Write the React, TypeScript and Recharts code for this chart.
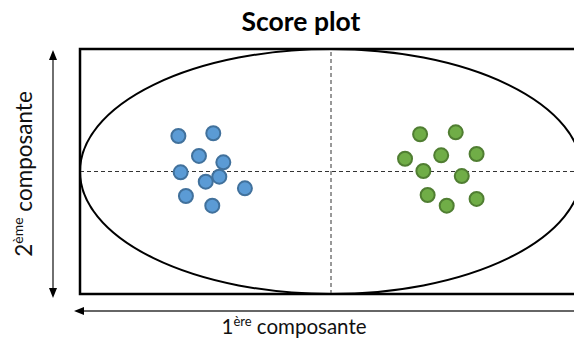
import React from 'react';
import { ScatterChart, Scatter, XAxis, YAxis, ReferenceLine, ReferenceArea, Label } from 'recharts';

// scores, both axes scaled to [-1, 1]
const groupA = [
  { x: -0.608, y: 0.29 },
  { x: -0.469, y: 0.312 },
  { x: -0.526, y: 0.127 },
  { x: -0.429, y: 0.075 },
  { x: -0.599, y: -0.007 },
  { x: -0.445, y: -0.042 },
  { x: -0.499, y: -0.083 },
  { x: -0.343, y: -0.137 },
  { x: -0.578, y: -0.2 },
  { x: -0.473, y: -0.279 },
];
const groupB = [
  { x: 0.355, y: 0.304 },
  { x: 0.497, y: 0.32 },
  { x: 0.295, y: 0.104 },
  { x: 0.439, y: 0.132 },
  { x: 0.58, y: 0.143 },
  { x: 0.368, y: 0.004 },
  { x: 0.521, y: -0.037 },
  { x: 0.385, y: -0.192 },
  { x: 0.461, y: -0.279 },
  { x: 0.58, y: -0.224 },
];
// confidence ellipse: centre and radii in axis units
const ellipse = [{ x: 0, y: 0, rx: 1, ry: 1 }];

const W = 600;
const H = 345;
const M = { top: 49, right: 18, bottom: 0, left: 0 };
const Y_W = 80;
const X_H = 51;
const PLOT_W = W - M.left - M.right - Y_W;
const PLOT_H = H - M.top - M.bottom - X_H;

const FONT = 'Lato, "Open Sans", sans-serif';

const dot = (fill: string, stroke: string) => (props: any) => (
  <circle cx={props.cx} cy={props.cy} r={7} fill={fill} stroke={stroke} strokeWidth={2} />
);

const EllipseShape = (props: any) => {
  const p = props.payload || {};
  return (
    <ellipse
      cx={props.cx}
      cy={props.cy}
      rx={(PLOT_W / 2) * (p.rx ?? 1)}
      ry={(PLOT_H / 2) * (p.ry ?? 1)}
      fill="none"
      stroke="#000"
      strokeWidth={2}
    />
  );
};

const XTitle = () => (
  <g>
    <line x1={82} y1={311} x2={574} y2={311} stroke="#333" strokeWidth={1.4} />
    <polygon points="74,311 84,307 84,315" fill="#000" />
    <text x={294} y={334} textAnchor="middle" fontFamily={FONT} fontSize={20.5} fill="#111">
      1<tspan fontSize={13} dy={-8}>ère</tspan>
      <tspan dy={8}> composante</tspan>
    </text>
  </g>
);

const YTitle = () => (
  <g>
    <line x1={53} y1={58} x2={53} y2={290} stroke="#333" strokeWidth={1.4} />
    <polygon points="53,50 49,60 57,60" fill="#000" />
    <polygon points="53,298 49,288 57,288" fill="#000" />
    <text
      transform="translate(32,174) rotate(-90)"
      textAnchor="middle"
      fontFamily={FONT}
      fontSize={22.5}
      fill="#111"
    >
      2<tspan fontSize={14} dy={-9}>ème</tspan>
      <tspan dy={9}> composante</tspan>
    </text>
  </g>
);

export default function App() {
  return (
    <div style={{ position: 'absolute', left: 0, top: 0, width: 574, height: 345, overflow: 'hidden', background: '#fff' }}>
      <div
        style={{
          position: 'absolute',
          left: 0,
          width: 602,
          top: 5,
          textAlign: 'center',
          fontFamily: FONT,
          fontWeight: 700,
          fontSize: 26.5,
          lineHeight: '32px',
          color: '#000',
          zIndex: 1,
        }}
      >
        Score plot
      </div>
      <ScatterChart width={W} height={H} margin={M}>
        <XAxis
          type="number"
          dataKey="x"
          domain={[-1, 1]}
          allowDataOverflow
          height={X_H}
          tick={false}
          tickLine={false}
          axisLine={false}
        >
          <Label content={XTitle} />
        </XAxis>
        <YAxis
          type="number"
          dataKey="y"
          domain={[-1, 1]}
          allowDataOverflow
          width={Y_W}
          tick={false}
          tickLine={false}
          axisLine={false}
        >
          <Label content={YTitle} />
        </YAxis>
        <ReferenceArea x1={-1} x2={1} y1={-1} y2={1} fill="none" stroke="#000" strokeWidth={2.5} />
        <ReferenceLine x={0} stroke="#333" strokeDasharray="4 3" />
        <ReferenceLine y={0} stroke="#333" strokeDasharray="4 3" />
        <Scatter data={ellipse} shape={EllipseShape} isAnimationActive={false} />
        <Scatter data={groupA} shape={dot('#5B9BD5', '#41719C')} isAnimationActive={false} />
        <Scatter data={groupB} shape={dot('#70AD47', '#507E32')} isAnimationActive={false} />
      </ScatterChart>
    </div>
  );
}
